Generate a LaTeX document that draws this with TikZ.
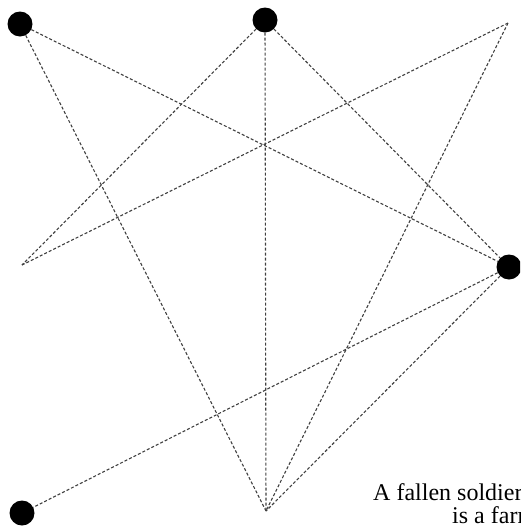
\documentclass[tikz,border=0pt]{standalone}
\usepackage{fontspec}
\setmainfont{Liberation Serif}
\usetikzlibrary{positioning}

\begin{document}
\begin{tikzpicture}[x=1pt,y=-1pt,
        dot/.style={circle,fill=black,minimum size=25pt,inner sep=0pt},
        link/.style={draw=black!75,line width=1.1pt,dash pattern=on 3pt off 2pt},
        caption/.style={anchor=base west,inner sep=0pt,font=\fontsize{24}{28}\selectfont}]
    \useasboundingbox (0,0) rectangle (520,528);
    \clip (0,0) rectangle (520,528);
    \node[dot] (tl) at (20,24) {};
    \node[dot] (tm) at (265,20) {};
    \node[dot] (rt) at (509,267) {};
    \node[dot] (bl) at (22,513) {};
    \coordinate (tr) at (508,23);
    \coordinate (lf) at (22,265);
    \coordinate (bm) at (266,511);
    \draw[link] (tl) -- (rt);
    \draw[link] (tl) -- (bm);
    \draw[link] (tm) -- (lf);
    \draw[link] (tm) -- (bm);
    \draw[link] (tm) -- (rt);
    \draw[link] (tr) -- (lf);
    \draw[link] (tr) -- (bm);
    \draw[link] (rt) -- (bl);
    \draw[link] (rt) -- (bm);
    \node[caption] (cap1) at (373,500) {A fallen soldier};
    \node[caption] (cap2) at (452,523) {is a farm};
\end{tikzpicture}
\end{document}
